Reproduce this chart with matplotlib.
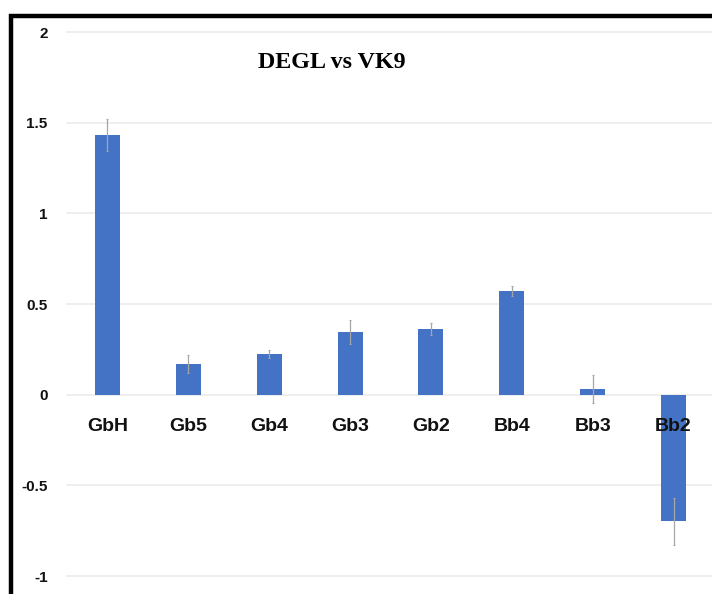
import matplotlib
matplotlib.use("Agg")
import matplotlib.pyplot as plt
from matplotlib.patches import Rectangle

categories = ["GbH", "Gb5", "Gb4", "Gb3", "Gb2", "Bb4", "Bb3", "Bb2"]
values = [1.432, 0.167, 0.226, 0.345, 0.362, 0.572, 0.031, -0.699]
errors = [0.09, 0.05, 0.022, 0.067, 0.031, 0.030, 0.078, 0.13]
y_ticks = [-1, -0.5, 0, 0.5, 1, 1.5, 2]
y_tick_labels = ["-1", "-0.5", "0", "0.5", "1", "1.5", "2"]
title = "DEGL vs VK9"

W, H = 712, 594
fig = plt.figure(figsize=(W / 100, H / 100), dpi=100)
ax = fig.add_axes([67 / W, 18 / H, 647 / W, 544 / H])

x = list(range(len(categories)))
ax.bar(x, values, width=0.31, color="#4472C4", zorder=3)
ax.errorbar(x, values, yerr=errors, fmt="none", ecolor="#A6A6A6",
            elinewidth=0.9, capsize=1, capthick=0.8, zorder=4)

ax.set_xlim(-0.5, len(categories) - 0.5)
ax.set_ylim(-1, 2)
ax.set_yticks(y_ticks)
ax.set_yticklabels(y_tick_labels)
ax.yaxis.grid(True, color="#EBEBEB", linewidth=1.2, zorder=0)
for gl in ax.get_ygridlines():
    gl.set_clip_on(False)

for s in ax.spines.values():
    s.set_visible(False)
ax.spines["bottom"].set_position(("data", 0))
ax.set_xticks(x)
ax.set_xticklabels(categories)
ax.xaxis.set_zorder(6)
ax.tick_params(axis="x", length=0, pad=16.5, labelsize=14)
ax.tick_params(axis="y", length=0, pad=14, labelsize=11)
for lab in ax.get_xticklabels() + ax.get_yticklabels():
    lab.set_fontfamily("Liberation Sans")
    lab.set_fontweight("bold")
    lab.set_color("#111111")

fig.text(332 / W, 1 - 62 / H, title, ha="center", va="center",
         fontsize=17.3, fontweight="bold", family="Liberation Serif")

# frame around the chart area
fig.patches.append(Rectangle((11 / W, -0.2), 1.2, 1 - 16 / H + 0.2,
                             transform=fig.transFigure, fill=False,
                             edgecolor="black", linewidth=3.2))

fig.savefig("out.png", dpi=100)
